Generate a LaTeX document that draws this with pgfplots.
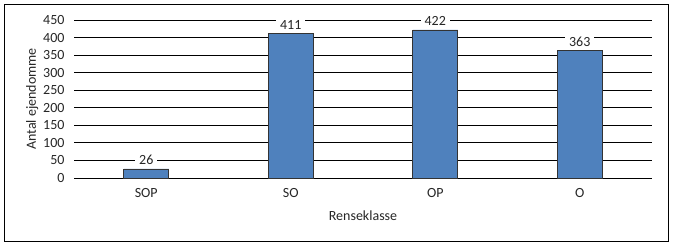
\documentclass[border=0pt]{standalone}
\usepackage{pgfplots}
\pgfplotsset{compat=1.18}
\usepackage{fontspec}
\setmainfont{Carlito}
\definecolor{barblue}{HTML}{4F81BD}
\definecolor{txt}{HTML}{262626}
\begin{document}
\begin{tikzpicture}[x=1bp,y=1bp]
\useasboundingbox (-74bp,-69bp) rectangle (600bp,178bp);
\draw[line width=0.8bp,black] (-70bp,-63bp) rectangle (594bp,174bp);
\begin{axis}[
  at={(0bp,0bp)}, anchor=south west,
  width=578bp, height=158bp, scale only axis,
  xmin=-0.5, xmax=3.5, ymin=0, ymax=450,
  ytick={0,50,...,450},
  xtick={0,1,2,3}, xticklabels={SOP,SO,OP,O},
  axis line style={draw=none},
  major tick length=0pt,
  ymajorgrids, grid style={black, line width=0.8bp},
  font=\fontsize{14bp}{16bp}\selectfont,
  tick label style={text=txt},
  /pgf/number format/assume math mode=true,
  yticklabel style={xshift=-6bp},
  xticklabel style={yshift=-7bp},
  ylabel={Antal ejendomme}, xlabel={Renseklasse},
  label style={text=txt},
  ylabel style={yshift=-2bp},
  xlabel style={yshift=-6bp},
]
\addplot[ybar, bar width=45bp, fill=barblue, draw=black!80, line width=0.6bp,
  nodes near coords, nodes near coords style={fill=white, text=txt, inner xsep=4bp, inner ysep=1bp, yshift=3bp},
  point meta=y] coordinates {(0,26) (1,411) (2,422) (3,363)};
\end{axis}
\end{tikzpicture}
\end{document}
